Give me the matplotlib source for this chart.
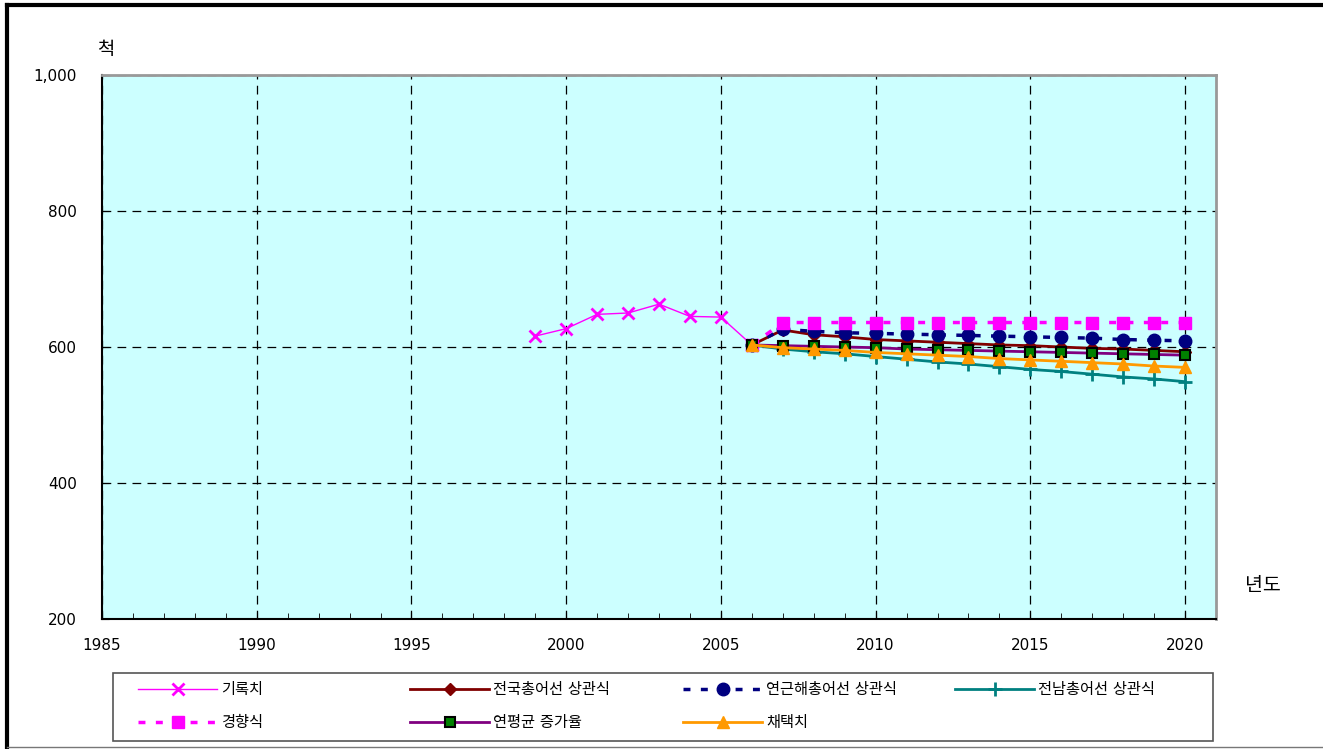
import matplotlib
matplotlib.use("Agg")
import matplotlib.pyplot as plt
from matplotlib.lines import Line2D
from matplotlib.patches import Rectangle
from matplotlib.ticker import MultipleLocator, FuncFormatter

plt.rcParams['font.family'] = ['DejaVu Sans', 'Noto Sans CJK KR']

# ---- data ----
years_rec = [1999, 2000, 2001, 2002, 2003, 2004, 2005, 2006]
rec = [616, 627, 648, 650, 663, 645, 644, 603]

years_f = list(range(2006, 2021))
national = [603, 625, 618, 615, 611, 609, 607, 605, 603, 602, 600, 598, 597, 595, 593]
coastal = [603, 626, 623, 621, 620, 619, 618, 617, 616, 615, 614, 613, 611, 610, 609]
jeonnam = [603, 597, 593, 590, 586, 582, 578, 575, 571, 567, 564, 560, 556, 553, 549]
trend = [603, 636, 636, 636, 636, 636, 636, 636, 636, 636, 636, 636, 636, 636, 636]
avg_rate = [603, 602, 601, 600, 599, 597, 596, 595, 594, 593, 592, 591, 590, 589, 588]
adopted = [603, 599, 597, 595, 592, 590, 588, 586, 583, 581, 579, 577, 575, 572, 570]

labels = ['기록치', '전국총어선 상관식', '연근해총어선 상관식', '전남총어선 상관식',
          '경향식', '연평균 증가율', '채택치']
x_ticks = [1985, 1990, 1995, 2000, 2005, 2010, 2015, 2020]
y_ticks = [200, 400, 600, 800, 1000]

W, H = 1323, 749
fig = plt.figure(figsize=(W/100, H/100), dpi=100)
ax = fig.add_axes([102/W, 1-619/H, 1114/W, 544/H])
ax.set_facecolor('#CCFFFF')

h1, = ax.plot(years_rec, rec, color='#FF00FF', lw=1, marker='x', ms=9, mew=2, label=labels[0])
h2, = ax.plot(years_f, national, color='#800000', lw=2, marker='D', ms=6, label=labels[1])
h3, = ax.plot(years_f, coastal, color='#000080', lw=2.5, ls=(0, (2, 3)), marker='o', ms=9, label=labels[2])
h4, = ax.plot(years_f, jeonnam, color='#008080', lw=2, marker='+', ms=10, mew=2, label=labels[3])
h5, = ax.plot(years_f, trend, color='#FF00FF', lw=2.5, ls=(0, (2, 3)), marker='s', ms=9, label=labels[4])
h6, = ax.plot(years_f, avg_rate, color='#800080', lw=2, marker='s', ms=7,
              mfc='#008000', mec='black', mew=1.5, label=labels[5])
h7, = ax.plot(years_f, adopted, color='#FF9900', lw=2, marker='^', ms=9, label=labels[6])

ax.set_xlim(1985, 2021)
ax.set_ylim(200, 1000)
ax.set_xticks(x_ticks)
ax.set_yticks(y_ticks)
ax.xaxis.set_minor_locator(MultipleLocator(1))
ax.yaxis.set_major_formatter(FuncFormatter(lambda v, p: f'{int(v):,}'))
ax.tick_params(axis='both', which='major', direction='in', length=5, labelsize=11)
ax.tick_params(axis='x', which='major', pad=14)
ax.tick_params(axis='y', which='major', pad=18)
ax.tick_params(axis='x', which='minor', direction='in', length=4)
ax.grid(True, which='major', color='black', ls=(0, (7, 5)), lw=0.9)
for s in ['left', 'bottom']:
    ax.spines[s].set_color('black')
    ax.spines[s].set_linewidth(1.5)
for s in ['top', 'right']:
    ax.spines[s].set_color('#999999')
    ax.spines[s].set_linewidth(2)

fig.text(106/W, 1-50/H, '척', fontsize=13.5, ha='center', va='center')
fig.text(1263/W, 1-585/H, '년도', fontsize=14, ha='center', va='center')

# legend: frame + four columns of equal width
fig.add_artist(Rectangle((113/W, 1-741/H), 1100/W, 68/H, transform=fig.transFigure,
                         fill=False, edgecolor='#555555', lw=1.2))
columns = [[h1, h5], [h2, h6], [h3, h7], [h4]]
col_x = [138, 410, 683, 955]
for hs, cx in zip(columns, col_x):
    lg = fig.legend(handles=hs, labels=[h.get_label() for h in hs], ncol=1,
                    loc='upper left', bbox_to_anchor=(cx/W, 1-682/H),
                    frameon=False, fontsize=11, handlelength=5.2, handletextpad=0.25,
                    labelspacing=1.2, borderaxespad=0, borderpad=0)

# figure frame
fig.add_artist(Line2D([7/W, 7/W], [0, 1-5/H], transform=fig.transFigure, color='black', lw=3))
fig.add_artist(Line2D([7/W, 1], [1-5/H, 1-5/H], transform=fig.transFigure, color='black', lw=3))
fig.add_artist(Line2D([7/W, 1], [2/H, 2/H], transform=fig.transFigure, color='#777777', lw=1))

fig.savefig('out.png', dpi=100)
